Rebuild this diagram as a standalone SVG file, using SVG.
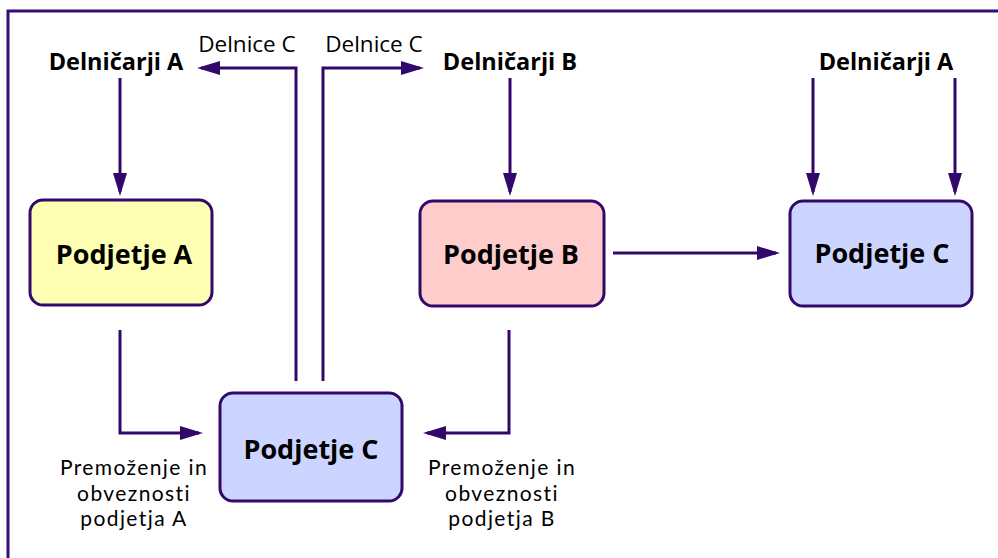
<svg xmlns="http://www.w3.org/2000/svg" width="998" height="558" viewBox="0 0 998 558">
<style>
.box{stroke:#33086b;stroke-width:3}
.ln{fill:none;stroke:#33086b;stroke-width:3}
.t{font-family:"Open Sans","Noto Sans",sans-serif;fill:#000;text-anchor:middle}
.b{font-weight:bold;font-size:23.5px}
.bl{font-weight:bold;font-size:27px}
.r{font-size:22.5px}
.m{font-family:Lato,"Open Sans",sans-serif;font-size:21px;letter-spacing:1.4px;fill:#000;text-anchor:middle}
</style>
<defs>
<marker id="ah" markerUnits="userSpaceOnUse" markerWidth="24" markerHeight="16" refX="19" refY="7" orient="auto">
<path d="M0,0 L23,7 L0,14 z" fill="#33086b"/>
</marker>
</defs>
<rect width="998" height="558" fill="#fff"/>
<path d="M8,558 V11 H998" fill="none" stroke="#3a0a78" stroke-width="3"/>
<g id="conn">
<path class="ln" d="M120,78 V192" marker-end="url(#ah)"/>
<path class="ln" d="M510,78 V192" marker-end="url(#ah)"/>
<path class="ln" d="M813,78 V192" marker-end="url(#ah)"/>
<path class="ln" d="M955,78 V192" marker-end="url(#ah)"/>
<path class="ln" d="M296,381 V68 H201" marker-end="url(#ah)"/>
<path class="ln" d="M323,381 V68 H420" marker-end="url(#ah)"/>
<path class="ln" d="M613,253 H776" marker-end="url(#ah)"/>
<path class="ln" d="M120,330 V433 H199" marker-end="url(#ah)"/>
<path class="ln" d="M509,330 V433 H427" marker-end="url(#ah)"/>
</g>
<g id="lbl-delnicarji-a1"><text class="t b" x="116" y="70">Delničarji A</text></g>
<g id="lbl-delnicarji-b"><text class="t b" x="510" y="70">Delničarji B</text></g>
<g id="lbl-delnicarji-a2"><text class="t b" x="886" y="70">Delničarji A</text></g>
<g id="lbl-delnice-c1"><text class="t r" x="247" y="52">Delnice C</text></g>
<g id="lbl-delnice-c2"><text class="t r" x="374" y="52">Delnice C</text></g>
<g id="podjetje-a"><rect class="box" x="30" y="200" width="182" height="105" rx="13" fill="#ffffb3"/><text class="t bl" x="124" y="264">Podjetje A</text></g>
<g id="podjetje-b"><rect class="box" x="420" y="201" width="184" height="105" rx="13" fill="#ffcccc"/><text class="t bl" x="511" y="264">Podjetje B</text></g>
<g id="podjetje-c1"><rect class="box" x="790" y="201" width="182" height="105" rx="13" fill="#ccd5ff"/><text class="t bl" x="882" y="263">Podjetje C</text></g>
<g id="podjetje-c2"><rect class="box" x="220" y="393" width="182" height="108" rx="13" fill="#ccd5ff"/><text class="t bl" x="311" y="459">Podjetje C</text></g>
<g id="lbl-prem-a"><text class="m" x="134" y="475">Premoženje in</text><text class="m" x="134" y="500.5">obveznosti</text><text class="m" x="134" y="526">podjetja A</text></g>
<g id="lbl-prem-b"><text class="m" x="502" y="475">Premoženje in</text><text class="m" x="502" y="500.5">obveznosti</text><text class="m" x="502" y="526">podjetja B</text></g>
</svg>
